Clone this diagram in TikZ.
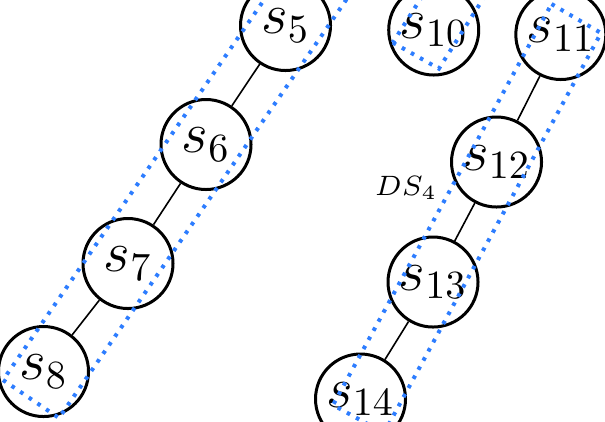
\documentclass[tikz,border=0pt]{standalone}
\definecolor{dotblue}{RGB}{45,125,255}
\begin{document}
\begin{tikzpicture}[x=0.25pt,y=-0.25pt,
  vtx/.style={circle,draw,line width=0.75pt,minimum size=22.5pt,inner sep=0pt,font=\Large},
  edge/.style={line width=0.4pt},
  grp/.style={draw=dotblue,line width=1pt,dash pattern=on 0.9pt off 1.7pt}]
\useasboundingbox (0,0) rectangle (605,421);
\clip (0,0) rectangle (605,421);
\node[vtx] (s5) at (285.5,25.5) {$s_{5}$};
\node[vtx] (s6) at (206,144.5) {$s_{6}$};
\node[vtx] (s7) at (128,263.5) {$s_{7}$};
\node[vtx] (s8) at (43.5,371.5) {$s_{8}$};
\node[vtx] (s10) at (433.7,30) {$s_{10}$};
\node[vtx] (s11) at (560.8,34.5) {$s_{11}$};
\node[vtx] (s12) at (496.5,162) {$s_{12}$};
\node[vtx] (s13) at (433,282) {$s_{13}$};
\node[vtx] (s14) at (360.5,399) {$s_{14}$};
\draw[edge] (s5) -- (s6);
\draw[edge] (s6) -- (s7);
\draw[edge] (s7) -- (s8);
\draw[edge] (s11) -- (s12);
\draw[edge] (s12) -- (s13);
\draw[edge] (s13) -- (s14);
\node[font=\scriptsize] (ds4) at (406,188) {$DS_4$};
\draw[grp] (3,380) -- (59,418) -- (347.4,-2) -- (291.4,-40) -- cycle;
\draw[grp] (551.5,4) -- (601,33) -- (384,433) -- (333,405) -- cycle;
\draw[grp] (392.8,42.6) -- (438.9,68.6) -- (503.1,-32.8) -- (457,-58.8) -- cycle;
\end{tikzpicture}
\end{document}
